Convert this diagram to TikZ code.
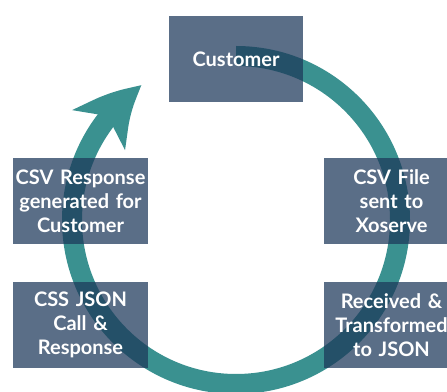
\documentclass[tikz,border=0pt]{standalone}
\usepackage{fontspec}
\setmainfont{Lato}
\usepackage{tikz}
\usetikzlibrary{arrows.meta, bending, positioning}

\definecolor{boxblue}{RGB}{29,56,90}
\definecolor{cycleteal}{RGB}{58,145,144}

\begin{document}
\begin{tikzpicture}[x=1pt, y=1pt]
    % Define block styles
    \tikzstyle{block} = [rectangle, fill=boxblue, fill opacity=0.73, text opacity=1,
        text=white, minimum width=135pt, minimum height=86pt, inner sep=0pt,
        text width=135pt, align=center, font=\fontsize{20}{24}\selectfont\bfseries]
    \tikzstyle{ring} = [draw=cycleteal, line width=20pt,
        -{Stealth[length=62pt, width=64pt, inset=16pt, bend]}]

    \clip (0,0) rectangle (447,391);
    \useasboundingbox (0,0) rectangle (447,391);

    % Draw the cycle
    \coordinate (hub) at (236,171);
    \path [ring] ([shift={(90:164)}]hub) arc[start angle=90, end angle=-235, radius=164];

    % Define nodes
    \node [block, minimum width=134pt, text width=134pt] (customer) at (236,332) {Customer};
    \node [block] (csvresp) at (80.5,190) {CSV Response\\generated for\\Customer};
    \node [block, below of=csvresp, node distance=124pt] (cssjson) {CSS JSON\\Call \&\\Response};
    \node [block] (csvfile) at (391.5,190) {CSV File\\sent to\\Xoserve};
    \node [block, below of=csvfile, node distance=124pt] (received) {Received \&\\Transformed\\to JSON};

\end{tikzpicture}
\end{document}
